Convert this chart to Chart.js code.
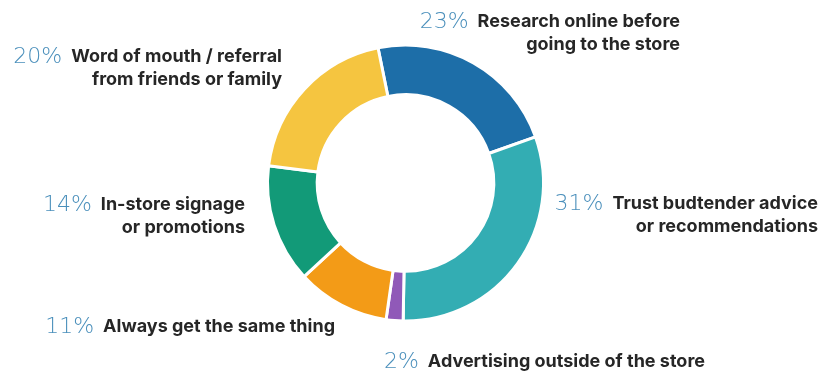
<!DOCTYPE html>
<html>
<head>
<meta charset="utf-8">
<script src="https://cdn.jsdelivr.net/npm/chart.js@4/dist/chart.umd.min.js"></script>
<style>
  html, body { margin: 0; padding: 0; background: #fff; }
  #wrap { width: 820px; height: 376px; position: relative; }
</style>
</head>
<body>
<div id="wrap"><canvas id="donut"></canvas></div>
<script>
const categories = [
    ['Research online before', 'going to the store'],
    ['Trust budtender advice', 'or recommendations'],
    ['Advertising outside of the store'],
    ['Always get the same thing'],
    ['In-store signage', 'or promotions'],
    ['Word of mouth / referral', 'from friends or family']
];
const shares = [23, 31, 2, 11, 14, 20];
const sliceColors = ['#1d6ea8', '#33adb3', '#9059b8', '#f39b17', '#129a78', '#f5c540'];

// where each label block sits: right edge of the text and middle of its first line
const labelLayout = [
    { right: 680, y: 22 },
    { right: 818, y: 204 },
    { right: 705, y: 362 },
    { right: 335, y: 327 },
    { right: 245, y: 205 },
    { right: 282, y: 57 }
];

const calloutLabels = {
    id: 'calloutLabels',
    afterDraw(chart) {
        const ctx = chart.ctx;
        const values = chart.data.datasets[0].data;
        ctx.save();
        ctx.textBaseline = 'middle';
        labelLayout.forEach((pos, i) => {
            const lines = categories[i];
            ctx.font = '700 18px Inter, "Noto Sans", sans-serif';
            ctx.fillStyle = '#262626';
            ctx.textAlign = 'right';
            lines.forEach((line, j) => {
                ctx.fillText(line, pos.right, pos.y + j * 23);
            });
            const firstWidth = ctx.measureText(lines[0]).width;
            ctx.font = '200 22px "DejaVu Sans", sans-serif';
            ctx.fillStyle = '#4a8fbb';
            ctx.fillText(values[i] + '%', pos.right - firstWidth - 9, pos.y);
        });
        ctx.restore();
    }
};

new Chart(document.getElementById('donut'), {
    type: 'doughnut',
    data: {
        labels: categories.map(c => c.join(' ')),
        datasets: [{
            data: shares,
            backgroundColor: sliceColors,
            borderColor: '#fff',
            borderWidth: 3
        }]
    },
    options: {
        responsive: true,
        maintainAspectRatio: false,
        animation: false,
        rotation: -11.5,
        cutout: '64%',
        layout: { padding: { top: 43, bottom: 53, left: 266, right: 275 } },
        plugins: {
            legend: { display: false },
            tooltip: { enabled: false }
        }
    },
    plugins: [calloutLabels]
});
</script>
</body>
</html>
